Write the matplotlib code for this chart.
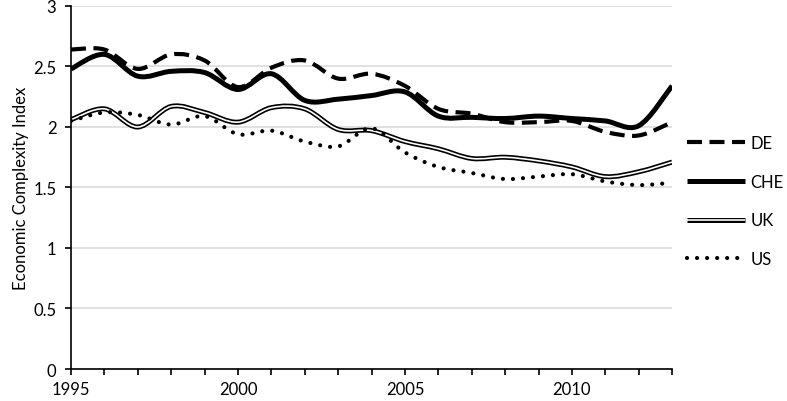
import numpy as np
import matplotlib
matplotlib.use("Agg")
import matplotlib.pyplot as plt
from matplotlib.path import Path
from matplotlib.patches import PathPatch
from matplotlib.lines import Line2D
import matplotlib.patheffects as pe

plt.rcParams['font.family'] = ['Lato', 'DejaVu Sans']

years = list(range(1995, 2014))
de = [2.64, 2.64, 2.48, 2.60, 2.55, 2.33, 2.49, 2.55, 2.40, 2.44, 2.34,
      2.15, 2.11, 2.04, 2.04, 2.05, 1.96, 1.93, 2.04]
che = [2.48, 2.60, 2.42, 2.46, 2.45, 2.31, 2.44, 2.22, 2.23, 2.26, 2.29,
       2.09, 2.08, 2.07, 2.09, 2.07, 2.05, 2.01, 2.34]
uk = [2.06, 2.15, 2.00, 2.17, 2.12, 2.04, 2.16, 2.15, 1.98, 1.97, 1.88,
      1.82, 1.74, 1.75, 1.72, 1.67, 1.59, 1.63, 1.71]
us = [2.05, 2.12, 2.10, 2.02, 2.09, 1.94, 1.97, 1.88, 1.84, 1.99, 1.79,
      1.67, 1.62, 1.57, 1.59, 1.61, 1.55, 1.52, 1.54]
names = ["DE", "CHE", "UK", "US"]


def smooth_path(x, y):
    # Catmull-Rom style bezier like Excel "smoothed line"
    pts = np.column_stack([x, y]).astype(float)
    n = len(pts)
    verts = [pts[0]]
    codes = [Path.MOVETO]
    for i in range(n - 1):
        p0 = pts[i - 1] if i > 0 else pts[i]
        p1 = pts[i]
        p2 = pts[i + 1]
        p3 = pts[i + 2] if i + 2 < n else pts[i + 1]
        c1 = p1 + (p2 - p0) / 6.0
        c2 = p2 - (p3 - p1) / 6.0
        verts += [c1, c2, p2]
        codes += [Path.CURVE4] * 3
    return Path(verts, codes)


fig = plt.figure(figsize=(7.87, 4.02), dpi=100)
ax = fig.add_axes([0.0902, 0.0796, 0.7638, 0.903])

styles = {
    "DE": dict(color="black", lw=3.0, ls=(0, (3.6, 1.8)), capstyle="butt"),
    "CHE": dict(color="black", lw=3.6, ls="-", capstyle="butt"),
    "UK": dict(color="white", lw=1.2, ls="-", capstyle="butt"),
    "US": dict(color="black", lw=3.0, ls=(0, (0.01, 2.4)), capstyle="round"),
}
series = {"DE": de, "CHE": che, "UK": uk, "US": us}

handles = []
for name in names:
    st = styles[name]
    patch = PathPatch(smooth_path(years, series[name]), facecolor="none",
                      edgecolor=st["color"], lw=st["lw"], ls=st["ls"],
                      capstyle=st["capstyle"], joinstyle="round", zorder=3)
    h = Line2D([], [], color=st["color"], lw=st["lw"], ls=st["ls"],
               dash_capstyle=st["capstyle"], solid_capstyle="butt")
    if name == "UK":
        fx = [pe.Stroke(linewidth=3.6, foreground="black"), pe.Normal()]
        patch.set_path_effects(fx)
        h.set_path_effects(fx)
    ax.add_patch(patch)
    handles.append(h)

ax.set_xlim(1995, 2013)
ax.set_ylim(0, 3)
ax.set_yticks(np.arange(0, 3.01, 0.5))
ax.set_yticklabels(["0", "0.5", "1", "1.5", "2", "2.5", "3"])
ax.set_xticks(years)
ax.set_xticklabels([str(y) if y % 5 == 0 else "" for y in years])
ax.grid(axis="y", color="#d9d9d9", lw=1.1)
ax.set_axisbelow(True)
for s in ["top", "right"]:
    ax.spines[s].set_visible(False)
for s in ["left", "bottom"]:
    ax.spines[s].set_linewidth(1.2)
    ax.spines[s].set_zorder(4)
ax.tick_params(axis="both", direction="out", length=4.5, width=1.2,
               labelsize=12)
ax.tick_params(axis="y", pad=6)
ax.tick_params(axis="x", pad=4)
ax.set_ylabel("Economic Complexity Index", fontsize=12, labelpad=3)

fig.legend(handles, names, loc="center left", bbox_to_anchor=(0.873, 0.4975),
           frameon=False, fontsize=12, handlelength=3.5, handletextpad=0.3,
           labelspacing=1.37, borderaxespad=0, borderpad=0)

fig.savefig("out.png", dpi=100)
